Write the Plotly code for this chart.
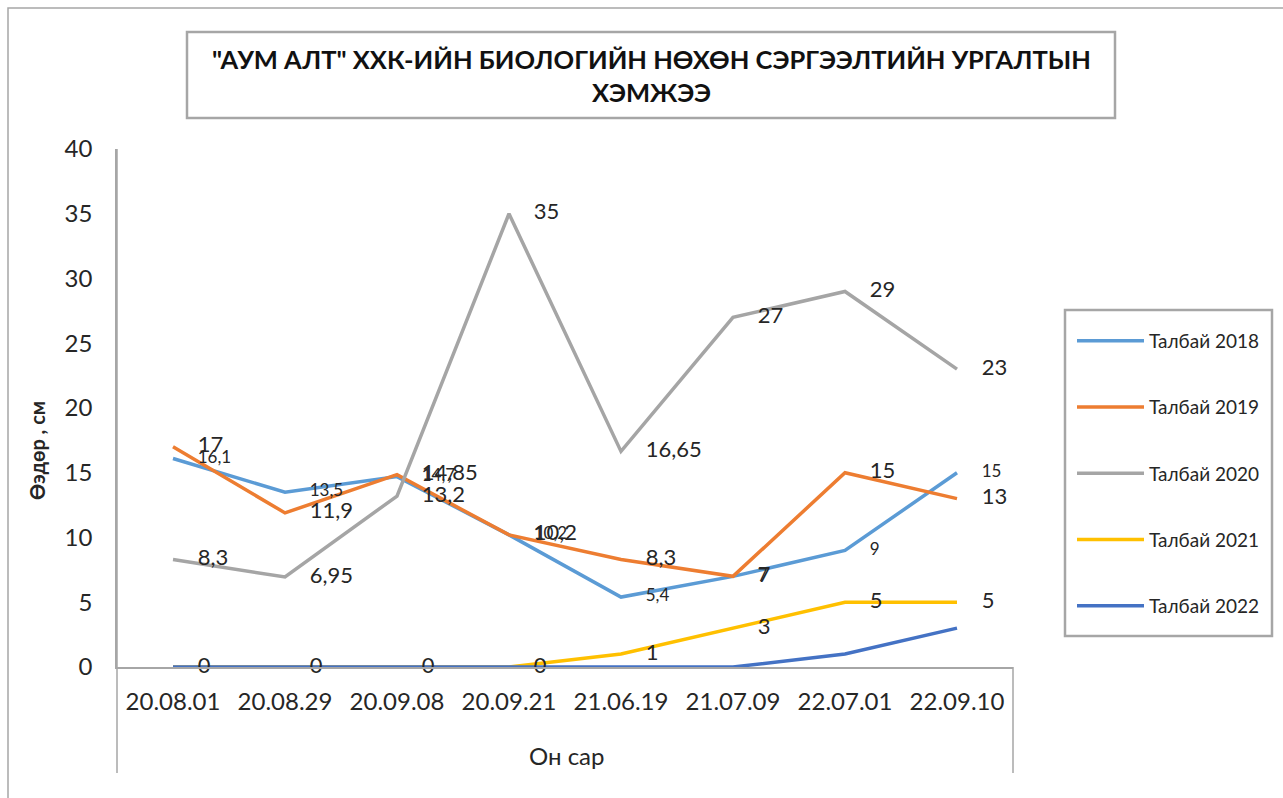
import plotly.graph_objects as go

categories = ["20.08.01", "20.08.29", "20.09.08", "20.09.21", "21.06.19", "21.07.09", "22.07.01", "22.09.10"]
series_names = ["Талбай 2018", "Талбай 2019", "Талбай 2020", "Талбай 2021", "Талбай 2022"]
talbai_2018 = [16.1, 13.5, 14.7, 10.2, 5.4, 7, 9, 15]
talbai_2019 = [17, 11.9, 14.85, 10.2, 8.3, 7, 15, 13]
talbai_2020 = [8.3, 6.95, 13.2, 35, 16.65, 27, 29, 23]
talbai_2021 = [0, 0, 0, 0, 1, 3, 5, 5]
talbai_2022 = [0, 0, 0, 0, 0, 0, 1, 3]
y_ticks = [0, 5, 10, 15, 20, 25, 30, 35, 40]

colors = ["#5B9BD5", "#ED7D31", "#A5A5A5", "#FFC000", "#4472C4"]
label_sizes = [17, 22, 22, 22, None]
all_series = [talbai_2018, talbai_2019, talbai_2020, talbai_2021, talbai_2022]

FONT = "Lato, 'Open Sans', sans-serif"
TXT = "#262626"
GRAY = "#A6A6A6"


def fmt(v):
    if float(v).is_integer():
        return str(int(v))
    return str(v).replace(".", ",")


fig = go.Figure()
for name, vals, col in zip(series_names, all_series, colors):
    fig.add_trace(go.Scatter(
        x=categories, y=vals, name=name, mode="lines",
        line=dict(color=col, width=3.5), legendgroup=name,
    ))
for name, vals, col, ls in zip(series_names, all_series, colors, label_sizes):
    if ls is None:
        continue
    fig.add_trace(go.Scatter(
        x=categories, y=vals, name=name + " labels", mode="markers+text",
        marker=dict(size=38, opacity=0, color=col),
        text=[fmt(v) for v in vals], textposition="middle right",
        textfont=dict(family=FONT, size=ls, color=TXT),
        showlegend=False, hoverinfo="skip", cliponaxis=False,
    ))

L, R, T, B = 117, 270, 149, 131
W, H = 1283, 798
pw, ph = W - L - R, H - T - B


def px(x):
    return (x - L) / pw


def py(y):
    return 1 - (y - T) / ph


fig.update_layout(
    width=W, height=H,
    margin=dict(l=L, r=R, t=T, b=B, pad=0),
    paper_bgcolor="white", plot_bgcolor="white",
    font=dict(family=FONT, color=TXT),
    showlegend=True,
    legend=dict(
        x=px(1072), y=py(322), xanchor="left", yanchor="top",
        borderwidth=0, bgcolor="rgba(0,0,0,0)",
        font=dict(family=FONT, size=19, color=TXT),
        tracegroupgap=38.5, itemwidth=67,
    ),
    xaxis=dict(
        type="category", range=[-0.5, 7.5], showgrid=False, zeroline=False,
        showline=True, linecolor=GRAY, linewidth=1.5,
        ticks="", ticklabelstandoff=12,
        tickfont=dict(family=FONT, size=24, color=TXT),
    ),
    yaxis=dict(
        range=[0, 40], tickvals=y_ticks, showgrid=False, zeroline=False,
        showline=True, linecolor=GRAY, linewidth=1.5,
        ticks="", ticklabelstandoff=18,
        tickfont=dict(family=FONT, size=24, color=TXT),
    ),
    shapes=[
        dict(type="rect", xref="paper", yref="paper", x0=px(8), x1=px(1300), y0=py(815), y1=py(8),
             line=dict(color=GRAY, width=1.5), layer="below"),
        dict(type="rect", xref="paper", yref="paper", x0=px(187), x1=px(1115), y0=py(118), y1=py(32),
             line=dict(color=GRAY, width=2.5)),
        dict(type="rect", xref="paper", yref="paper", x0=px(1065), x1=px(1272), y0=py(636), y1=py(310),
             line=dict(color=GRAY, width=2.5), layer="below"),
        dict(type="line", xref="paper", yref="paper", x0=0, x1=0, y0=py(773), y1=1,
             line=dict(color=GRAY, width=1.5)),
        dict(type="line", xref="paper", yref="paper", x0=1, x1=1, y0=py(773), y1=0,
             line=dict(color=GRAY, width=1.5)),
    ],
    annotations=[
        dict(xref="paper", yref="paper", x=px(651), y=py(76), xanchor="center", yanchor="middle",
             text="\"АУМ АЛТ\" ХХК-ИЙН БИОЛОГИЙН НӨХӨН СЭРГЭЭЛТИЙН УРГАЛТЫН<br>ХЭМЖЭЭ",
             showarrow=False,
             font=dict(family=FONT, size=25.5, color="#111", weight="bold")),
        dict(xref="paper", yref="paper", x=px(37), y=py(451), xanchor="center", yanchor="middle",
             text="Өэдөр , см", textangle=-90, showarrow=False,
             font=dict(family=FONT, size=20, color=TXT, weight="bold")),
        dict(xref="paper", yref="paper", x=px(566), y=py(755), xanchor="center", yanchor="middle",
             text="Он сар", showarrow=False,
             font=dict(family=FONT, size=24, color=TXT)),
    ],
)

fig.write_html(
    "out.html",
    config={"displayModeBar": False},
    post_script="document.body.style.margin='0';document.body.style.overflow='hidden';",
)
